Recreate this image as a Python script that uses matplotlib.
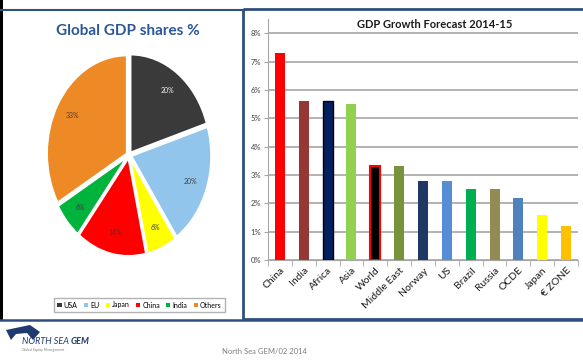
import numpy as np
import matplotlib.pyplot as plt
from matplotlib.patches import Polygon, Rectangle

# Data
pie_labels = ['USA', 'EU', 'Japan', 'China', 'India', 'Others']
pie_values = [20, 20, 6, 14, 6, 33]
pie_colors = ['#3A3A3A', '#92C5EC', '#FFFF00', '#FF0000', '#00B33C', '#EE8A25']
pie_text_colors = ['#F2F2F2', '#404040', '#404040', '#7F1F1F', '#404040', '#5A3A20']

countries = ['China', 'India', 'Africa', 'Asia', 'World', 'Middle East', 'Norway',
             'US', 'Brazil', 'Russia', 'OCDE', 'Japan', '€ ZONE']
growth = [7.3, 5.6, 5.6, 5.5, 3.3, 3.3, 2.8, 2.8, 2.5, 2.5, 2.2, 1.6, 1.2]
bar_colors = ['#FF0000', '#953735', '#002060', '#92D050', '#000000', '#77933C', '#1F3864',
              '#558ED5', '#00B050', '#948A54', '#4F81BD', '#FFFF00', '#FFC000']
bar_edges = ['none', 'none', '#000000', 'none', '#FF0000', 'none', 'none',
             'none', 'none', 'none', 'none', 'none', 'none']

W, H = 583, 362
plt.rcParams['font.family'] = ['Lato', 'DejaVu Sans']
fig = plt.figure(figsize=(W / 100, H / 100), dpi=100)


def px_axes(x0, y0, x1, y1):
    return fig.add_axes([x0 / W, 1 - y1 / H, (x1 - x0) / W, (y1 - y0) / H])


# Background frames
bg = fig.add_axes([0, 0, 1, 1])
bg.set_xlim(0, W)
bg.set_ylim(H, 0)
bg.axis('off')
bg.add_patch(Rectangle((0, 0), 3, 320, color='black', lw=0))
bg.plot([0, 243], [9.5, 9.5], color='#2F4F7F', lw=1.5)
bg.add_patch(Rectangle((243, 8.5), 345, 310, fill=False, ec='#2F4F7F', lw=2))
bg.plot([0, W], [319.5, 319.5], color='#2F4F7F', lw=1.8)

# Footer logo
bg.add_patch(Polygon([[6, 330], [30, 325], [40, 332], [33, 340], [27, 333], [16, 334], [11, 340]],
                     closed=True, color='#1F3A6E', lw=0))
t1 = bg.text(22, 342, 'NORTH SEA ', fontsize=6.5, style='italic', color='#1F3A6E', va='center')
bg.annotate('GEM', xy=(1, 0.5), xycoords=t1, fontsize=6.5, style='italic', weight='bold',
            color='#1F3A6E', va='center')
bg.text(22, 350, 'Global Equity Management', fontsize=2.5, color='#7F7F7F', va='center')
bg.text(222, 352, 'North Sea GEM/02 2014', fontsize=5.5, color='#7F7F7F', va='center')

# Pie chart
bg.text(128, 31, 'Global GDP shares %', fontsize=11, weight='bold', color='#2B579A',
        ha='center', va='center')
ax1 = px_axes(41, 47, 217, 263)
wedges, texts, autotexts = ax1.pie(pie_values, colors=pie_colors, startangle=90, counterclock=False,
                                   explode=[0.03] * len(pie_values), autopct='%1.0f%%',
                                   pctdistance=0.78,
                                   wedgeprops=dict(edgecolor='white', linewidth=1.5),
                                   textprops=dict(fontsize=5))
for t, c, v in zip(autotexts, pie_text_colors, pie_values):
    t.set_text(f'{v}%')
    t.set_color(c)
ax1.set_aspect('auto')
ax1.set_xlim(-1.1, 1.1)
ax1.set_ylim(-1.1, 1.1)
ax1.set_facecolor('none')

leg = fig.legend(wedges, pie_labels, loc='center', bbox_to_anchor=(139.5 / W, 1 - 305 / H),
                 ncol=6, fontsize=5, frameon=True, fancybox=False, edgecolor='#A0A0A0',
                 handlelength=0.6, handleheight=0.6, handletextpad=0.3, columnspacing=0.9,
                 borderpad=0.5)
for h in leg.legend_handles:
    h.set_edgecolor('none')

# Bar chart
ax2 = px_axes(268, 19, 578, 260)
x = np.arange(len(countries))
for xi, v, c, e in zip(x, growth, bar_colors, bar_edges):
    lw = 1.5 if e == '#FF0000' else (1.0 if e != 'none' else 0)
    ax2.bar(xi, v, width=0.42, color=c, edgecolor=e, linewidth=lw, zorder=3)
ax2.set_xlim(-0.5, 12.5)
ax2.set_ylim(0, 8.5)
ax2.set_yticks(range(0, 9))
ax2.set_yticklabels([f'{i}%' for i in range(0, 9)], fontsize=5.5, color='#404040')
ax2.yaxis.grid(True, color='#A6A6A6', lw=1.2, zorder=0)
ax2.set_xticks(x)
ax2.set_xticklabels(countries, rotation=45, ha='right', rotation_mode='anchor', fontsize=7.5,
                    color='#1A1A1A')
ax2.set_xticks(np.arange(-0.5, 13, 1), minor=True)
ax2.tick_params(axis='x', which='major', length=0, pad=4)
ax2.tick_params(axis='x', which='minor', length=4, color='#A6A6A6')
ax2.tick_params(axis='y', length=3, color='#A6A6A6', pad=2)
for s in ['top', 'right']:
    ax2.spines[s].set_visible(False)
ax2.spines['left'].set_color('#A6A6A6')
ax2.spines['bottom'].set_color('#A6A6A6')
ax2.set_facecolor('none')
bg.text(435, 24, 'GDP Growth Forecast 2014-15', fontsize=8, weight='bold', color='#1A1A1A',
        ha='center', va='center')

fig.savefig('out.png', dpi=100)
